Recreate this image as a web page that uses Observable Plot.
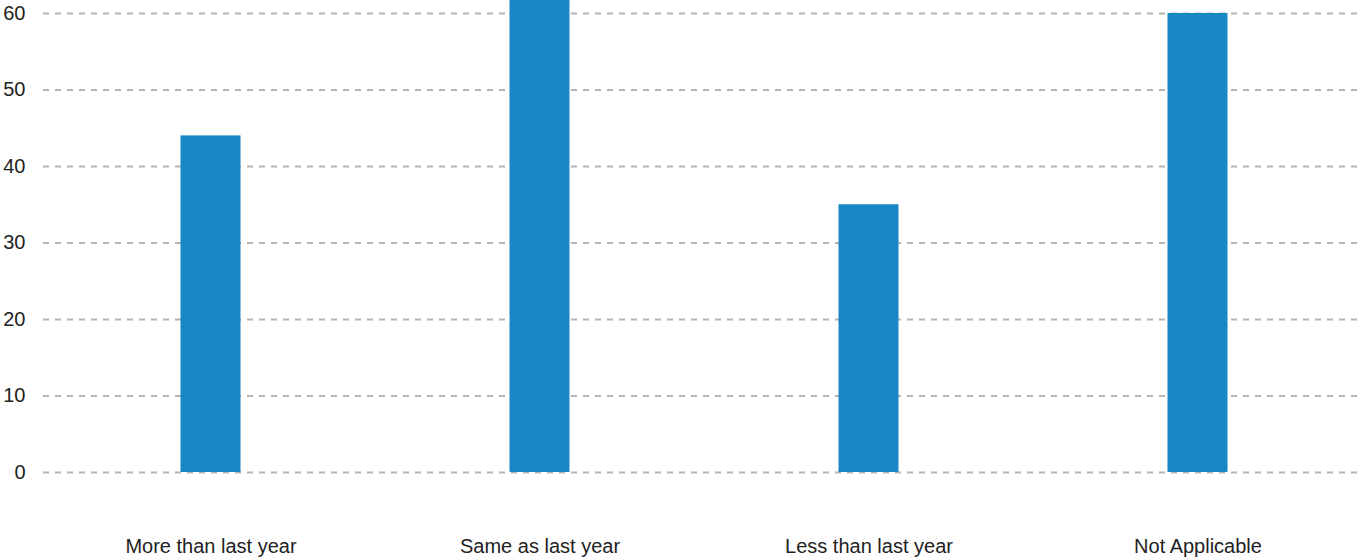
<!DOCTYPE html>
<html>
<head>
<meta charset="utf-8">
<script src="https://cdn.jsdelivr.net/npm/d3@7"></script>
<script src="https://cdn.jsdelivr.net/npm/@observablehq/plot@0.6"></script>
<style>
  body { margin: 0; background: #fff; }
  svg { display: block; }
</style>
</head>
<body>
<div id="chart"></div>
<script>
const categories = ["More than last year", "Same as last year", "Less than last year", "Not Applicable"];
const values = [44, 62, 35, 60];
const yTicks = [0, 10, 20, 30, 40, 50, 60];

const data = categories.map((c, i) => ({category: c, value: values[i]}));

const chart = Plot.plot({
  width: 1360,
  height: 557,
  marginTop: 13,
  marginBottom: 85,
  marginLeft: 43,
  marginRight: 0,
  style: {fontFamily: "'Liberation Sans', Arial, sans-serif", fontSize: "20px", color: "#222", background: "#fff", overflow: "hidden"},
  x: {domain: categories, range: [46, 1362], padding: 0, label: null},
  y: {domain: [0, 60], range: [472, 13], label: null},
  marks: [
    Plot.ruleY(yTicks, {stroke: "#b3b3b3", strokeWidth: 2, strokeDasharray: "6,6"}),
    Plot.barY(data, {x: "category", y: "value", fill: "#1788c3", insetLeft: 134.5, insetRight: 134.5}),
    Plot.axisY({ticks: yTicks, tickSize: 0, tickPadding: 18, fontSize: 20, label: null}),
    Plot.axisX({tickSize: 0, tickPadding: 66, fontSize: 20, label: null})
  ]
});
document.getElementById("chart").appendChild(chart);
</script>
</body>
</html>
